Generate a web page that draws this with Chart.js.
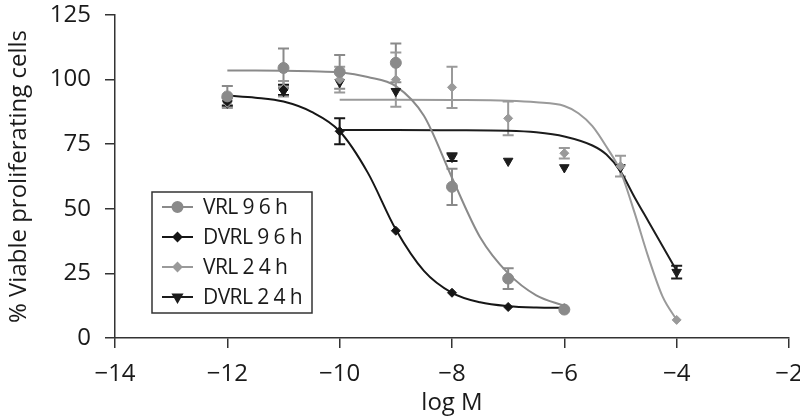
<!DOCTYPE html>
<html>
<head>
<meta charset="utf-8">
<script src="https://cdn.jsdelivr.net/npm/chart.js@4.4.1/dist/chart.umd.min.js"></script>
<style>
  html, body { margin: 0; padding: 0; background: #fff; }
  #wrap { width: 800px; height: 418px; }
</style>
</head>
<body>
<div id="wrap"><canvas id="doseChart"></canvas></div>
<script>
// Axis ticks
const xTicks = [-14, -12, -10, -8, -6, -4, -2];
const yTicks = [0, 25, 50, 75, 100, 125];

// Legend labels
const seriesNames = ['VRL 9 6 h', 'DVRL 9 6 h', 'VRL 2 4 h', 'DVRL 2 4 h'];

// Measured points (mean, +/- error)
const vrl96X = [-12, -11, -10, -9, -8, -7, -6];
const vrl96Y = [93.5, 104.5, 103, 106.5, 58.5, 23, 11];
const vrl96Err = [4, 7.5, 6.5, 7.5, 7, 4, 0];

const dvrl96X = [-12, -11, -10, -9, -8, -7, -6];
const dvrl96Y = [91.5, 96, 80, 41.5, 17.5, 12, 11.5];
const dvrl96Err = [1.5, 2, 5, 0, 0, 0, 0];

const vrl24X = [-12, -11, -10, -9, -8, -7, -6, -5, -4];
const vrl24Y = [91, 96.5, 100, 100, 97, 85, 71.5, 66.5, 7];
const vrl24Err = [2, 3, 5, 10.5, 8, 6.5, 2, 4, 0];

const dvrl24X = [-12, -11, -10, -9, -8, -7, -6, -5, -4];
const dvrl24Y = [91, 95.5, 99, 95.5, 70, 68.5, 66, 66, 25.5];
const dvrl24Err = [0, 0, 0, 0, 1.5, 0, 0, 0, 2.5];

// Fitted curves
const vrl96FitX = [-12, -11.5, -11, -10.5, -10, -9.5, -9, -8.5, -8, -7.5, -7, -6.5, -6];
const vrl96FitY = [103.5, 103.5, 103.4, 103.2, 102.8, 101, 97.5, 86, 62, 39, 25, 16.5, 12.5];

const dvrl96FitX = [-12, -11.5, -11, -10.5, -10, -9.5, -9, -8.5, -8, -7.5, -7, -6.5, -6];
const dvrl96FitY = [93.8, 93, 91.5, 87.5, 80, 64, 42, 26, 17.5, 13.8, 12.3, 11.8, 11.7];

const vrl24FitX = [-10, -9, -8, -7, -6.5, -6, -5.75, -5.5, -5.25, -5, -4.75, -4.5, -4.25, -4];
const vrl24FitY = [92.2, 92.2, 92.1, 91.8, 91.2, 89.8, 87, 82, 74, 64.5, 48.5, 31, 16, 7];

const dvrl24FitX = [-10, -9, -8, -7, -6.5, -6, -5.5, -5.25, -5, -4.75, -4.5, -4.25, -4];
const dvrl24FitY = [80.5, 80.5, 80.4, 80.2, 79.6, 78, 74.5, 71, 64.5, 54.5, 45, 35.5, 26];

const toPoints = (xs, ys) => xs.map((x, i) => ({ x: x, y: ys[i] }));
const minus = (v) => String(v).replace('-', '\u2212');

const FONT = '"Open Sans", "DejaVu Sans", sans-serif';
const AXIS = '#333333';

const styles = [
  { color: '#8a8a8a', pointStyle: 'circle', radius: 5.5, rotation: 0 },
  { color: '#161616', pointStyle: 'rectRot', radius: 4.5, rotation: 0 },
  { color: '#9a9a9a', pointStyle: 'rectRot', radius: 4.5, rotation: 0 },
  { color: '#1c1c1c', pointStyle: 'triangle', radius: 5.5, rotation: 180 }
];

const pointSets = [
  [vrl96X, vrl96Y, vrl96Err],
  [dvrl96X, dvrl96Y, dvrl96Err],
  [vrl24X, vrl24Y, vrl24Err],
  [dvrl24X, dvrl24Y, dvrl24Err]
];
const fitSets = [
  [vrl96FitX, vrl96FitY],
  [dvrl96FitX, dvrl96FitY],
  [vrl24FitX, vrl24FitY],
  [dvrl24FitX, dvrl24FitY]
];

const datasets = [];
pointSets.forEach(([xs, ys, err], i) => {
  const s = styles[i];
  datasets.push({
    label: seriesNames[i],
    data: toPoints(xs, ys),
    err: err,
    showLine: false,
    pointStyle: s.pointStyle,
    rotation: s.rotation,
    pointRadius: s.radius,
    backgroundColor: s.color,
    borderColor: s.color,
    borderWidth: 1
  });
});
fitSets.forEach(([xs, ys], i) => {
  const s = styles[i];
  datasets.push({
    label: seriesNames[i] + ' fit',
    data: toPoints(xs, ys),
    showLine: true,
    cubicInterpolationMode: 'monotone',
    pointRadius: 0,
    borderColor: s.color,
    borderWidth: 2,
    fill: false
  });
});

// Vertical error bars with caps
const errorBars = {
  id: 'errorBars',
  beforeDatasetsDraw(chart) {
    const { ctx, scales: { x, y } } = chart;
    chart.data.datasets.forEach((ds) => {
      if (!ds.err) return;
      ctx.save();
      ctx.strokeStyle = ds.borderColor;
      ctx.lineWidth = 2;
      ds.data.forEach((p, j) => {
        const e = ds.err[j];
        if (!e) return;
        const px = x.getPixelForValue(p.x);
        const top = y.getPixelForValue(p.y + e);
        const bot = y.getPixelForValue(p.y - e);
        ctx.beginPath();
        ctx.moveTo(px, top); ctx.lineTo(px, bot);
        ctx.moveTo(px - 5.5, top); ctx.lineTo(px + 5.5, top);
        ctx.moveTo(px - 5.5, bot); ctx.lineTo(px + 5.5, bot);
        ctx.stroke();
      });
      ctx.restore();
    });
  }
};

// Boxed legend inside the plot
const boxLegend = {
  id: 'boxLegend',
  afterDraw(chart) {
    const ctx = chart.ctx;
    const left = 152, top = 192, w = 160, h = 121, rowH = 30;
    ctx.save();
    ctx.fillStyle = '#ffffff';
    ctx.fillRect(left, top, w, h);
    ctx.strokeStyle = AXIS;
    ctx.lineWidth = 1.5;
    ctx.strokeRect(left, top, w, h);
    ctx.font = '21px ' + FONT;
    ctx.letterSpacing = '-0.6px';
    ctx.textBaseline = 'middle';
    seriesNames.forEach((name, i) => {
      const s = styles[i];
      const cy = top + 15 + i * rowH;
      ctx.strokeStyle = s.color;
      ctx.lineWidth = 2;
      ctx.beginPath();
      ctx.moveTo(left + 10, cy);
      ctx.lineTo(left + 41, cy);
      ctx.stroke();
      ctx.fillStyle = s.color;
      Chart.helpers.drawPoint(ctx, { pointStyle: s.pointStyle, radius: s.radius - 0.5, rotation: s.rotation, borderWidth: 1 }, left + 25.5, cy);
      ctx.fillStyle = '#1a1a1a';
      ctx.fillText(name, left + 51, cy + 1);
    });
    ctx.restore();
  }
};

new Chart(document.getElementById('doseChart'), {
  type: 'scatter',
  data: { datasets: datasets },
  options: {
    responsive: true,
    maintainAspectRatio: false,
    animation: false,
    layout: { padding: { top: 15, right: 11, bottom: 0, left: 0 } },
    plugins: {
      legend: { display: false },
      tooltip: { enabled: false }
    },
    scales: {
      x: {
        type: 'linear',
        min: -14,
        max: -2,
        afterBuildTicks: (scale) => { scale.ticks = xTicks.map(v => ({ value: v })); },
        afterFit: (scale) => { scale.height = 80; scale.paddingLeft = 0; scale.paddingRight = 0; },
        border: { display: true, color: AXIS, width: 1.5 },
        grid: { display: true, drawOnChartArea: false, drawTicks: true, tickLength: 10, color: AXIS, lineWidth: 1.5 },
        ticks: {
          color: '#1a1a1a',
          font: { family: FONT, size: 24 },
          padding: 12,
          maxRotation: 0,
          autoSkip: false,
          callback: (v) => minus(v)
        },
        title: {
          display: true,
          text: 'log M',
          color: '#1a1a1a',
          font: { family: FONT, size: 24 },
          padding: { top: 0, bottom: 0 }
        }
      },
      y: {
        min: 0,
        max: 125,
        afterBuildTicks: (scale) => { scale.ticks = yTicks.map(v => ({ value: v })); },
        afterFit: (scale) => { scale.width = 115; scale.paddingTop = 0; scale.paddingBottom = 0; },
        border: { display: true, color: AXIS, width: 1.5 },
        grid: { display: true, drawOnChartArea: false, drawTicks: true, tickLength: 10, color: AXIS, lineWidth: 1.5 },
        ticks: {
          color: '#1a1a1a',
          font: { family: FONT, size: 24 },
          padding: 14,
          autoSkip: false
        },
        title: {
          display: true,
          text: '% Viable proliferating cells',
          color: '#1a1a1a',
          font: { family: FONT, size: 24 },
          padding: { top: 5, bottom: 0 }
        }
      }
    }
  },
  plugins: [errorBars, boxLegend]
});
</script>
</body>
</html>
